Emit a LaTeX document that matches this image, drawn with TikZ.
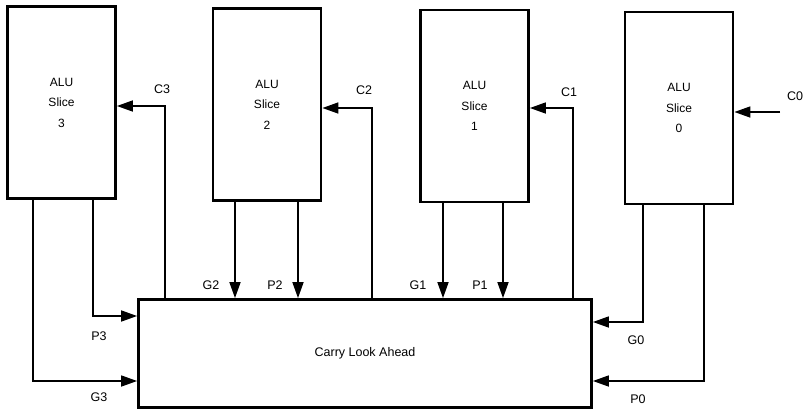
\documentclass[tikz,border=0pt]{standalone}
\usepackage{fontspec}
\setmainfont{Liberation Sans}
\usetikzlibrary{arrows.meta}
\begin{document}
\begin{tikzpicture}[x=1pt,y=-1pt,
  box/.style={draw,line width=2.8pt,rectangle,inner sep=0pt},
  alubox/.style={box,minimum width=108pt,minimum height=192pt,align=center,
    font=\fontsize{12}{20.5}\selectfont},
  wire/.style={line width=1.7pt,-{Triangle[length=16pt,width=11pt]}},
  lbl/.style={font=\fontsize{12.5}{14}\selectfont,inner sep=0pt}]
\useasboundingbox (0,0) rectangle (809,416);
\fill[white] (0,0) rectangle (809,416);
% boxes
\node[alubox] (alu3) at (61.5,102.5) {ALU\\Slice\\3};
\node[alubox] (alu2) at (267,104.5) {ALU\\Slice\\2};
\node[alubox] (alu1) at (474.5,106) {ALU\\Slice\\1};
\node[alubox] (alu0) at (679,108) {ALU\\Slice\\0};
\node[box,minimum width=453pt,minimum height=108pt,font=\fontsize{12.5}{14}\selectfont] (cla) at (365,353.5) {Carry Look Ahead};
% corner coordinates
\coordinate (c3) at (165,106);
\coordinate (p3) at (93,316);
\coordinate (g3) at (33,381);
\coordinate (g2) at (235,0);
\coordinate (p2) at (298,0);
\coordinate (c2) at (372,108);
\coordinate (g1) at (443,0);
\coordinate (p1) at (503,0);
\coordinate (c1) at (573,108);
\coordinate (g0) at (643,322);
\coordinate (p0) at (704,381);
\coordinate (c0) at (780,112);
% connectors
\draw[wire] (cla.north -| c3) -- (c3) -- (alu3.east |- c3);
\draw[wire] (alu3.south -| p3) -- (p3) -- (cla.west |- p3);
\draw[wire] (alu3.south -| g3) -- (g3) -- (cla.west |- g3);
\draw[wire] (alu2.south -| g2) -- (cla.north -| g2);
\draw[wire] (alu2.south -| p2) -- (cla.north -| p2);
\draw[wire] (cla.north -| c2) -- (c2) -- (alu2.east |- c2);
\draw[wire] (alu1.south -| g1) -- (cla.north -| g1);
\draw[wire] (alu1.south -| p1) -- (cla.north -| p1);
\draw[wire] (cla.north -| c1) -- (c1) -- (alu1.east |- c1);
\draw[wire] (alu0.south -| g0) -- (g0) -- (cla.east |- g0);
\draw[wire] (alu0.south -| p0) -- (p0) -- (cla.east |- p0);
\draw[wire] (c0) -- (alu0.east |- c0);
% labels
\node[lbl] (lc3) at (162,89) {C3};
\node[lbl] (lp3) at (99,336) {P3};
\node[lbl] (lg3) at (99,397) {G3};
\node[lbl] (lg2) at (211,285) {G2};
\node[lbl] (lp2) at (275,285) {P2};
\node[lbl] (lc2) at (364,90) {C2};
\node[lbl] (lg1) at (418,285) {G1};
\node[lbl] (lp1) at (480,285) {P1};
\node[lbl] (lc1) at (569,92) {C1};
\node[lbl] (lg0) at (636,340) {G0};
\node[lbl] (lp0) at (638,399) {P0};
\node[lbl] (lc0) at (795,96) {C0};
\end{tikzpicture}
\end{document}
